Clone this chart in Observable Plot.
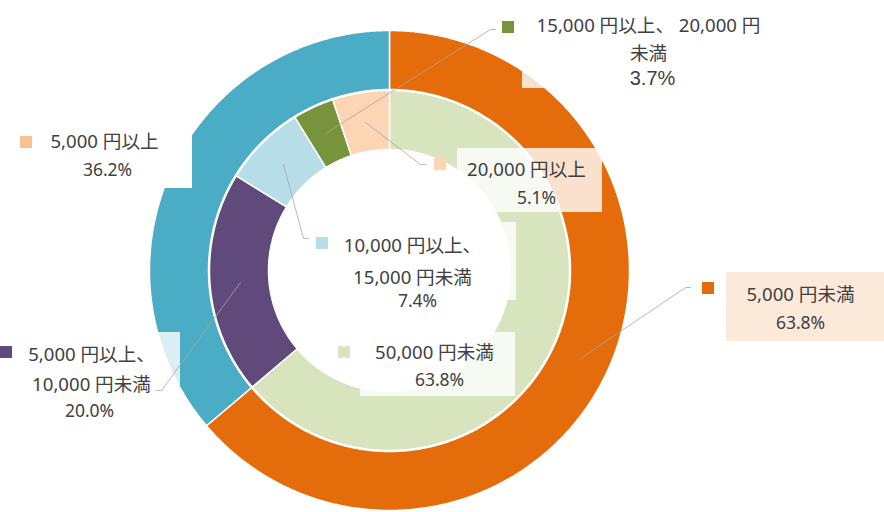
<!DOCTYPE html>
<html><head><meta charset="utf-8">
<script src="https://cdn.jsdelivr.net/npm/d3@7"></script>
<script src="https://cdn.jsdelivr.net/npm/@observablehq/plot@0.6"></script>
<style>html,body{margin:0;padding:0;background:#fff}#chart svg{display:block}</style>
</head><body><div id="chart"></div>
<script>
// ---- data ----
const outerCats = ["5,000 円未満", "5,000 円以上"];
const outerVals = [63.8, 36.2];
const outerColors = ["#e46c0a", "#4bacc6"];
const innerCats = ["50,000 円未満", "5,000 円以上、10,000 円未満", "10,000 円以上、15,000 円未満", "15,000 円以上、 20,000 円未満", "20,000 円以上"];
const innerVals = [63.8, 20.0, 7.4, 3.7, 5.1];
const innerColors = ["#d7e4bd", "#604a7b", "#b7dee8", "#77933c", "#fcd5b5"];
// label line breaks (as in the picture)
const outerLines = [["5,000 円未満"], ["5,000 円以上"]];
const innerLines = [["50,000 円未満"], ["5,000 円以上、", "10,000 円未満"], ["10,000 円以上、", "15,000 円未満"], ["15,000 円以上、 20,000 円", "未満"], ["20,000 円以上"]];
const outerKeyColors = ["#e46c0a", "#fac090"];

// ---- layout ----
const W = 884, H = 512, CX = 389, CY = 270;
const R = {outer: [181, 240], inner: [121, 180]};

function ring(cats, vals, colors, r0, r1) {
  const total = d3.sum(vals);
  let acc = 0; const pts = [];
  cats.forEach((c, i) => {
    const a0 = acc / total * 2 * Math.PI; acc += vals[i];
    const a1 = acc / total * 2 * Math.PI;
    const n = Math.max(2, Math.ceil((a1 - a0) / (Math.PI / 360)));
    for (let k = 0; k <= n; k++) { const a = a0 + (a1 - a0) * k / n; pts.push({key: c, color: colors[i], x: CX + r1 * Math.sin(a), y: CY - r1 * Math.cos(a)}); }
    for (let k = n; k >= 0; k--) { const a = a0 + (a1 - a0) * k / n; pts.push({key: c, color: colors[i], x: CX + r0 * Math.sin(a), y: CY - r0 * Math.cos(a)}); }
  });
  return pts;
}
const outerPts = ring(outerCats, outerVals, outerColors, R.outer[0], R.outer[1]);
const innerPts = ring(innerCats, innerVals, innerColors, R.inner[0], R.inner[1]);
const hole = d3.range(0, 721).map(k => ({key: "hole", x: CX + R.inner[0] * Math.sin(k * Math.PI / 360), y: CY - R.inner[0] * Math.cos(k * Math.PI / 360)}));

// label boxes (layout)
const boxes = [
  {x1: 0, x2: 192, y1: 100, y2: 188, fill: "#ffffff", o: 1},
  {x1: 0, x2: 180, y1: 332, y2: 430, fill: "#ffffff", o: 0.8},
  {x1: 522, x2: 770, y1: 6, y2: 88, fill: "#ffffff", o: 0.8},
  {x1: 457, x2: 602, y1: 148, y2: 212, fill: "#ffffff", o: 0.8},
  {x1: 330, x2: 516, y1: 222, y2: 300, fill: "#ffffff", o: 0.8},
  {x1: 360, x2: 515, y1: 332, y2: 396, fill: "#ffffff", o: 0.8},
  {x1: 726, x2: 884, y1: 272, y2: 341, fill: "#e46c0a", o: 0.15}
];
// leader lines (layout)
const leaders = [
  {key: "olive", p: [[325, 133], [490, 29], [495, 29]]},
  {key: "peach", p: [[365, 122], [420, 164], [425, 164]]},
  {key: "lblue", p: [[283, 164], [303, 238], [308, 238]]},
  {key: "orange", p: [[580, 358], [685, 287], [690, 287]]},
  {key: "purple", p: [[240, 282], [161, 390], [156, 390]]}
].flatMap(d => d.p.map(([x, y]) => ({key: d.key, x, y})));

// label placement
const labelPos = [
  {ring: "outer", i: 0, kx: 708, ky: 288, tx: 800, ys: [295], px: 800, py: 323},
  {ring: "outer", i: 1, kx: 26, ky: 142, tx: 104, ys: [142], px: 107, py: 170},
  {ring: "inner", i: 0, kx: 344, ky: 352, tx: 434, ys: [353], px: 439, py: 380},
  {ring: "inner", i: 1, kx: 6, ky: 352, tx: 91, ys: [355, 385], px: 89, py: 411},
  {ring: "inner", i: 2, kx: 322, ky: 243, tx: 412, ys: [246, 278], px: 417, py: 301},
  {ring: "inner", i: 3, kx: 508, ky: 27, tx: 648, ys: [26, 54], px: 652, py: 78, big: true},
  {ring: "inner", i: 4, kx: 440, ky: 164, tx: 526, ys: [170], px: 536, py: 198}
];
const keys = [], texts = [], pcts = [];
labelPos.forEach(l => {
  const lines = l.ring === "outer" ? outerLines[l.i] : innerLines[l.i];
  const val = l.ring === "outer" ? outerVals[l.i] : innerVals[l.i];
  const col = l.ring === "outer" ? outerKeyColors[l.i] : innerColors[l.i];
  const s = 12;
  keys.push({x1: l.kx - s / 2, x2: l.kx + s / 2, y1: l.ky - s / 2, y2: l.ky + s / 2, fill: col});
  lines.forEach((t, j) => texts.push({x: l.tx, y: l.ys[j], t}));
  pcts.push({x: l.px, y: l.py, t: val.toFixed(1) + "%", big: !!l.big});
});

const FONT = "'Noto Sans', 'Noto Sans CJK JP', sans-serif";
const chart = Plot.plot({
  width: W, height: H, margin: 0,
  x: {domain: [0, W], axis: null},
  y: {domain: [0, H], reverse: true, axis: null},
  color: {type: "identity"},
  style: {fontFamily: FONT, background: "#fff"},
  marks: [
    Plot.line(outerPts, {x: "x", y: "y", z: "key", fill: "color", stroke: "#fff", strokeWidth: 1.5, curve: "linear-closed"}),
    Plot.line(innerPts, {x: "x", y: "y", z: "key", fill: "color", stroke: "#fff", strokeWidth: 1.5, curve: "linear-closed"}),
    Plot.rect(boxes, {x1: "x1", x2: "x2", y1: "y1", y2: "y2", fill: "fill", fillOpacity: "o"}),
    Plot.line(hole, {x: "x", y: "y", z: "key", fill: "#fff", stroke: "none", curve: "linear-closed"}),
    Plot.line(leaders, {x: "x", y: "y", z: "key", stroke: "#a6a6a6", strokeWidth: 0.8}),
    Plot.rect(keys, {x1: "x1", x2: "x2", y1: "y1", y2: "y2", fill: "fill"}),
    Plot.text(texts, {x: "x", y: "y", text: "t", fontSize: 18.6, fill: "#404040", fontFamily: FONT}),
    Plot.text(pcts.filter(d => !d.big), {x: "x", y: "y", text: "t", fontSize: 17.5, fill: "#404040", fontFamily: FONT}),
    Plot.text(pcts.filter(d => d.big), {x: "x", y: "y", text: "t", fontSize: 20, fill: "#404040", fontFamily: "'Liberation Sans', Arial, sans-serif"})
  ]
});
document.getElementById("chart").append(chart);
</script></body></html>
